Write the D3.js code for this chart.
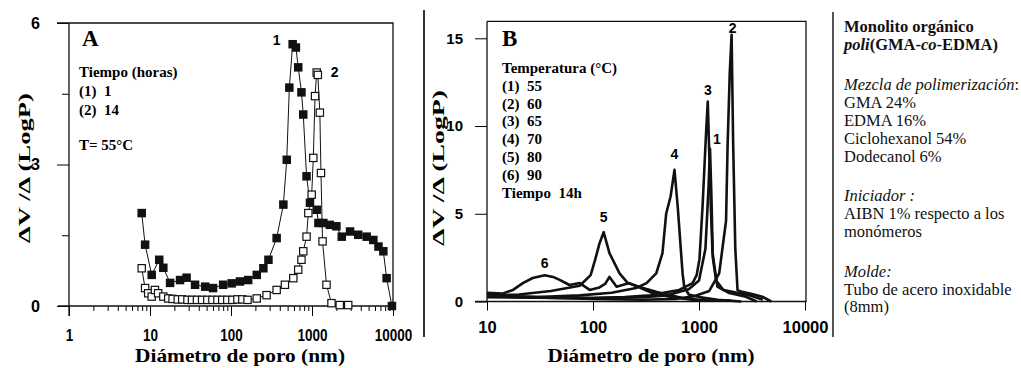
<!DOCTYPE html>
<html>
<head>
<meta charset="utf-8">
<script src="https://cdn.jsdelivr.net/npm/d3@7"></script>
<style>
body { margin: 0; background: #fff; }
svg { display: block; }
</style>
</head>
<body>
<div id="chart"></div>
<script>
// panel A: tiempo de polimerizacion (1 h / 14 h)
var diamA1 = [7.9, 8.7, 10.5, 13, 14.6, 17.7, 23.5, 28.3, 36, 48, 60, 80, 102, 129, 163, 208, 251, 290, 366, 443, 488, 525, 577, 633, 676, 741, 780, 857, 944, 1145, 1200, 1380, 1660, 2000, 2330, 2950, 3720, 4730, 5720, 6620, 7600, 8340, 9700];
var valA1 = [1.97, 1.30, 0.66, 0.98, 0.81, 0.49, 0.55, 0.60, 0.45, 0.41, 0.38, 0.45, 0.48, 0.52, 0.55, 0.66, 0.80, 0.98, 1.44, 2.15, 3.10, 4.63, 5.55, 5.48, 5.06, 4.53, 4.06, 2.75, 2.19, 2.04, 1.76, 1.76, 1.72, 1.69, 1.47, 1.58, 1.51, 1.47, 1.40, 1.26, 1.16, 0.59, 0.0];
var diamA2 = [7.9, 8.7, 9.5, 10.5, 11.5, 12.6, 14.6, 16.8, 19, 22, 25, 29, 33, 38, 44, 51, 59, 68, 78, 90, 104, 120, 138, 160, 208, 275, 366, 463, 588, 676, 741, 780, 857, 901, 991, 1038, 1090, 1143, 1180, 1250, 1290, 1350, 1510, 1740, 2200, 2800];
var valA2 = [0.80, 0.38, 0.27, 0.20, 0.34, 0.27, 0.20, 0.16, 0.15, 0.14, 0.14, 0.13, 0.13, 0.13, 0.13, 0.13, 0.13, 0.13, 0.13, 0.13, 0.13, 0.14, 0.14, 0.13, 0.16, 0.23, 0.34, 0.45, 0.59, 0.77, 0.98, 1.16, 1.47, 1.97, 2.36, 3.14, 4.45, 4.95, 4.90, 4.10, 2.82, 1.37, 0.45, 0.06, 0.02, 0.02];

// panel B: temperatura (1)55 (2)60 (3)65 (4)70 (5)80 (6)90
var diamB1 = [10, 30, 100, 300, 500, 800, 1000, 1150, 1230, 1270, 1310, 1350, 1450, 1700, 2300, 3000, 4000];
var valB1 = [0.35, 0.25, 0.2, 0.25, 0.35, 0.7, 1.2, 3.0, 6.5, 8.7, 6.0, 2.5, 1.2, 0.65, 0.5, 0.35, 0.1];
var diamB2 = [10, 100, 300, 600, 900, 1250, 1550, 1800, 1860, 1950, 2030, 2100, 2200, 2310, 2550, 3170, 3950, 4800];
var valB2 = [0.3, 0.15, 0.1, 0.15, 0.3, 0.6, 1.6, 4.6, 8.8, 13.0, 15.2, 9.0, 3.0, 0.65, 0.55, 0.43, 0.27, 0.0];
var diamB3 = [10, 50, 100, 200, 350, 450, 650, 870, 950, 1010, 1080, 1170, 1210, 1250, 1300, 1340, 1490, 1930, 2770, 3500];
var valB3 = [0.25, 0.2, 0.2, 0.25, 0.35, 0.48, 0.66, 1.05, 1.5, 2.4, 5.4, 9.8, 11.4, 8.4, 5.0, 2.8, 0.85, 0.48, 0.27, 0.0];
var diamB4 = [10, 30, 75, 150, 255, 320, 395, 452, 490, 540, 587, 630, 700, 725, 800, 1000, 1500, 2500];
var valB4 = [0.3, 0.25, 0.35, 0.5, 0.77, 1.05, 1.6, 2.75, 5.0, 6.0, 7.5, 5.4, 1.6, 0.84, 0.4, 0.25, 0.1, 0.0];
var diamB5 = [10, 20, 40, 75, 95, 105, 115, 126, 143, 178, 213, 275, 400, 700, 1000, 2000];
var valB5 = [0.35, 0.4, 0.6, 0.9, 1.5, 2.4, 3.3, 3.95, 2.76, 1.6, 1.05, 0.83, 0.54, 0.2, 0.1, 0.05];
var diamB6 = [10, 14, 17.6, 21.8, 27, 35, 42, 49, 60, 75, 93, 115, 130, 143, 167, 220, 275, 363, 530, 1000];
var valB6 = [0.5, 0.45, 0.66, 1.05, 1.34, 1.5, 1.4, 1.22, 0.94, 1.05, 0.66, 0.8, 1.0, 1.4, 0.84, 1.05, 0.8, 0.48, 0.27, 0.05];

var ticksA_x = [1, 10, 100, 1000, 10000];
var ticksA_y = [0, 3, 6];
var ticksB_x = [10, 100, 1000, 10000];
var ticksB_y = [0, 5, 10, 15];

var legendA = ["Tiempo (horas)", "(1)  1", "(2)  14"];
var legendB = ["Temperatura (°C)", "(1)  55", "(2)  60", "(3)  65", "(4)  70", "(5)  80", "(6)  90", "Tiempo  14h"];

var serif = "'Liberation Serif', 'Times New Roman', serif";
var sans = "'Liberation Sans', Arial, sans-serif";

var svg = d3.select("#chart").append("svg")
    .attr("width", 1021)
    .attr("height", 368)
    .style("background", "#fff");

function zipData(xs, ys) {
    var out = [];
    for (var i = 0; i < xs.length; i++) out.push({d: xs[i], v: ys[i]});
    return out;
}

// ---------- panel A ----------
var xA = d3.scaleLog().domain([1, 10000]).range([69, 393]);
var yA = d3.scaleLinear().domain([0, 6]).range([306, 23]);

var gA = svg.append("g");

// minor ticks x
var minorA = [];
for (var k = 0; k < 4; k++) for (var m = 2; m < 10; m++) minorA.push(m * Math.pow(10, k));
gA.append("g")
    .attr("transform", "translate(0,306)")
    .call(d3.axisBottom(xA).tickValues(minorA).tickSize(5).tickSizeOuter(0).tickFormat(""))
    .call(function(g) { g.select(".domain").remove(); });

gA.append("g")
    .attr("transform", "translate(0,306)")
    .call(d3.axisBottom(xA).tickValues(ticksA_x).tickSize(10).tickPadding(14).tickFormat(d3.format("d")))
    .call(function(g) { g.select(".domain").remove(); })
    .selectAll("text")
    .style("font-family", sans).style("font-weight", "bold").style("font-size", "16px")
    .attr("textLength", function(d) { return String(d).length * 7.5; })
    .attr("lengthAdjust", "spacingAndGlyphs");

gA.append("g")
    .attr("transform", "translate(69,0)")
    .call(d3.axisLeft(yA).tickValues([1.5, 4.5]).tickSize(7).tickFormat(""))
    .call(function(g) { g.select(".domain").remove(); });

gA.append("g")
    .attr("transform", "translate(69,0)")
    .call(d3.axisLeft(yA).tickValues(ticksA_y).tickSize(12).tickPadding(17).tickFormat(d3.format("d")))
    .call(function(g) { g.select(".domain").remove(); })
    .selectAll("text")
    .style("font-family", sans).style("font-weight", "bold").style("font-size", "17px")
    .attr("textLength", 9).attr("lengthAdjust", "spacingAndGlyphs");

// frame
gA.append("path")
    .attr("d", "M57,23H393V306M58,306H393M69,23V316")
    .attr("fill", "none").attr("stroke", "#111").attr("stroke-width", 1.3);

var lineA = d3.line().x(function(p) { return xA(p.d); }).y(function(p) { return yA(p.v); });
var sA1 = zipData(diamA1, valA1), sA2 = zipData(diamA2, valA2);

gA.append("path").datum(sA1).attr("d", lineA).attr("fill", "none").attr("stroke", "#111").attr("stroke-width", 1);
gA.append("path").datum(sA2).attr("d", lineA).attr("fill", "none").attr("stroke", "#111").attr("stroke-width", 1);

var sq = 8.5;
gA.selectAll(".mk1").data(sA1).enter().append("rect")
    .attr("x", function(p) { return xA(p.d) - sq / 2; })
    .attr("y", function(p) { return yA(p.v) - sq / 2; })
    .attr("width", sq).attr("height", sq)
    .attr("fill", "#111");
gA.selectAll(".mk2").data(sA2).enter().append("rect")
    .attr("x", function(p) { return xA(p.d) - sq / 2 + 0.6; })
    .attr("y", function(p) { return yA(p.v) - sq / 2 + 0.6; })
    .attr("width", sq - 1.2).attr("height", sq - 1.2)
    .attr("fill", "#fff").attr("stroke", "#111").attr("stroke-width", 1.2);

// texts A
gA.append("text").attr("x", 82).attr("y", 46).text("A")
    .style("font-family", serif).style("font-weight", "bold").style("font-size", "23px");
gA.selectAll(".legA").data(legendA).enter().append("text")
    .attr("x", 79).attr("y", function(d, i) { return 77 + i * 19; })
    .text(function(d) { return d; })
    .style("font-family", serif).style("font-weight", "bold").style("font-size", "15px")
    .style("white-space", "pre");
gA.append("text").attr("x", 79).attr("y", 150).text("T= 55°C")
    .style("font-family", serif).style("font-weight", "bold").style("font-size", "15px");

gA.append("text").attr("x", xA(577) - 16).attr("y", 45).text("1")
    .style("font-family", sans).style("font-weight", "bold").style("font-size", "14px").attr("text-anchor", "middle");
gA.append("text").attr("x", xA(1143) + 18).attr("y", 77).text("2")
    .style("font-family", sans).style("font-weight", "bold").style("font-size", "14px").attr("text-anchor", "middle");

gA.append("text")
    .attr("transform", "translate(30,168) rotate(-90)")
    .attr("text-anchor", "middle")
    .attr("textLength", 150).attr("lengthAdjust", "spacingAndGlyphs")
    .text("ΔV /Δ (LogP)")
    .style("font-family", serif).style("font-weight", "bold").style("font-size", "17px");
gA.append("text")
    .attr("x", 240).attr("y", 362)
    .attr("text-anchor", "middle")
    .attr("textLength", 210).attr("lengthAdjust", "spacingAndGlyphs")
    .text("Diámetro de poro (nm)")
    .style("font-family", serif).style("font-weight", "bold").style("font-size", "18px");

// ---------- panel B ----------
var xB = d3.scaleLog().domain([10, 10000]).range([487, 805]);
var yB = d3.scaleLinear().domain([0, 15]).range([301.5, 38.3]);

var gB = svg.append("g");

gB.append("g")
    .attr("transform", "translate(0,301.5)")
    .call(d3.axisBottom(xB).tickValues(ticksB_x).tickSize(9).tickPadding(11).tickFormat(d3.format("d")))
    .call(function(g) { g.select(".domain").remove(); })
    .selectAll("text")
    .style("font-family", sans).style("font-weight", "bold").style("font-size", "16px")
    .attr("textLength", function(d) { return String(d).length * 9.2; })
    .attr("lengthAdjust", "spacingAndGlyphs");

gB.append("g")
    .attr("transform", "translate(487,0)")
    .call(d3.axisLeft(yB).tickValues(ticksB_y).tickSize(12).tickPadding(12).tickFormat(d3.format("d")))
    .call(function(g) { g.select(".domain").remove(); })
    .selectAll("text")
    .style("font-family", sans).style("font-weight", "bold").style("font-size", "15px");

gB.append("path")
    .attr("d", "M487," + yB(15.97) + "H806V301.5H475M487," + yB(15.97) + "V301.5")
    .attr("fill", "none").attr("stroke", "#111").attr("stroke-width", 1.3);

var lineB = d3.line()
    .x(function(p) { return xB(p.d); })
    .y(function(p) { return yB(p.v); });

var seriesB = [[diamB1, valB1], [diamB2, valB2], [diamB3, valB3], [diamB4, valB4], [diamB5, valB5], [diamB6, valB6]];
seriesB.forEach(function(s) {
    gB.append("path").datum(zipData(s[0], s[1]))
        .attr("d", lineB)
        .attr("fill", "none").attr("stroke", "#111")
        .attr("stroke-width", 2.6).attr("stroke-linejoin", "round");
});

// peak numbers
var peakLab = [["1", 1270, 8.7, 7, 5], ["2", 2030, 15.2, 1, 2], ["3", 1210, 11.4, 0, 6],
               ["4", 587, 7.5, 0, 11], ["5", 126, 3.95, 0, 10], ["6", 35, 1.5, 0, 7]];
gB.selectAll(".pk").data(peakLab).enter().append("text")
    .attr("x", function(d) { return xB(d[1]) + d[3]; })
    .attr("y", function(d) { return yB(d[2]) - d[4]; })
    .attr("text-anchor", "middle")
    .text(function(d) { return d[0]; })
    .style("font-family", sans).style("font-weight", "bold").style("font-size", "14px");

gB.append("text").attr("x", 502).attr("y", 46).text("B")
    .style("font-family", serif).style("font-weight", "bold").style("font-size", "23px");
gB.selectAll(".legB").data(legendB).enter().append("text")
    .attr("x", 502).attr("y", function(d, i) { return 73 + i * 17.8; })
    .text(function(d) { return d; })
    .style("font-family", serif).style("font-weight", "bold").style("font-size", "15px")
    .style("white-space", "pre");

gB.append("text")
    .attr("transform", "translate(444,168) rotate(-90)")
    .attr("text-anchor", "middle")
    .attr("textLength", 156).attr("lengthAdjust", "spacingAndGlyphs")
    .text("ΔV /Δ (LogP)")
    .style("font-family", serif).style("font-weight", "bold").style("font-size", "17px");
gB.append("text")
    .attr("x", 651).attr("y", 362)
    .attr("text-anchor", "middle")
    .attr("textLength", 207).attr("lengthAdjust", "spacingAndGlyphs")
    .text("Diámetro de poro (nm)")
    .style("font-family", serif).style("font-weight", "bold").style("font-size", "18px");

// separators
svg.append("line").attr("x1", 424).attr("x2", 424).attr("y1", 10).attr("y2", 337)
    .attr("stroke", "#333").attr("stroke-width", 2);
svg.append("line").attr("x1", 833).attr("x2", 833).attr("y1", 12).attr("y2", 337)
    .attr("stroke", "#555").attr("stroke-width", 2);

// ---------- text panel ----------
var gT = svg.append("g").style("font-family", serif).style("font-size", "16.5px").style("fill", "#111");
var t1 = gT.append("text").attr("x", 844).attr("y", 32).style("font-weight", "bold");
t1.text("Monolito orgánico");
var t2 = gT.append("text").attr("x", 844).attr("y", 50).style("font-weight", "bold");
t2.append("tspan").style("font-style", "italic").text("poli");
t2.append("tspan").text("(GMA-");
t2.append("tspan").style("font-style", "italic").text("co");
t2.append("tspan").text("-EDMA)");

var mezcla = ["GMA 24%", "EDMA 16%", "Ciclohexanol 54%", "Dodecanol 6%"];
gT.append("text").attr("x", 844).attr("y", 90).style("font-style", "italic")
    .text("Mezcla de polimerización")
    .append("tspan").style("font-style", "normal").text(":");
gT.selectAll(".mz").data(mezcla).enter().append("text")
    .attr("x", 844).attr("y", function(d, i) { return 107.5 + i * 18; })
    .text(function(d) { return d; });

gT.append("text").attr("x", 844).attr("y", 201).style("font-style", "italic").text("Iniciador :");
gT.append("text").attr("x", 844).attr("y", 219).text("AIBN 1% respecto a los");
gT.append("text").attr("x", 844).attr("y", 237).text("monómeros");
gT.append("text").attr("x", 844).attr("y", 277).style("font-style", "italic").text("Molde:");
gT.append("text").attr("x", 844).attr("y", 295).text("Tubo de acero inoxidable");
gT.append("text").attr("x", 844).attr("y", 312).text("(8mm)");
</script>
</body>
</html>
